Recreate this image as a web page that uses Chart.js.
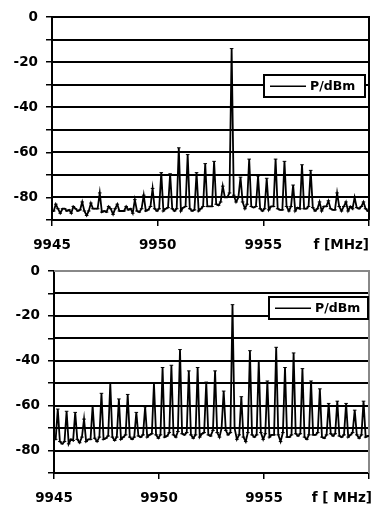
<!DOCTYPE html>
<html>
<head>
<meta charset="utf-8">
<script src="https://cdn.jsdelivr.net/npm/chart.js@4"></script>
<style>
  html, body { margin: 0; padding: 0; background: #fff; }
  canvas { display: block; }
</style>
</head>
<body>
<canvas id="topChart" width="380" height="254"></canvas>
<canvas id="bottomChart" width="380" height="251"></canvas>
<script>
// --- data ---
const seriesName = 'P/dBm';
const xTicks = [9945, 9950, 9955, 9960];
const yGrid = [0, -10, -20, -30, -40, -50, -60, -70, -80, -90];
const yLabelled = [0, -20, -40, -60, -80];
const unitTop = 'f [MHz]';
const unitBottom = 'f [ MHz]';

// comb line frequencies (MHz)
const combFreq = [9945.18, 9945.60, 9946.01, 9946.43, 9946.84, 9947.26, 9947.68, 9948.09, 9948.51, 9948.92,
                  9949.34, 9949.76, 9950.17, 9950.59, 9951.00, 9951.42, 9951.84, 9952.25, 9952.67, 9953.08,
                  9953.50, 9953.92, 9954.33, 9954.75, 9955.16, 9955.58, 9956.00, 9956.41, 9956.83, 9957.24,
                  9957.66, 9958.08, 9958.49, 9958.91, 9959.32, 9959.74];

// upper plot: peak level of each comb line and noise floor around it (dBm)
const topPeak = [-83, -85, -84, -82, -82.5, -78, -84, -83, -84, -81,
                 -79, -76, -69, -69.5, -58, -61, -69, -65, -64, -75,
                 -14, -71, -63, -70.5, -71.5, -63, -64, -74.5, -65.5, -68,
                 -82, -81.5, -78, -82, -80, -82];
const topPre = [-86, -85, -87, -85.5, -86, -85, -86.5, -85, -86, -87,
                -85, -84, -85, -84.5, -85, -84, -85.5, -84, -84, -82,
                -78, -80, -83, -84, -85, -84, -85.5, -84, -85, -84,
                -85, -84, -85.5, -84, -85, -84];
const topPost = [-85, -86, -85, -86, -85, -86.5, -85, -86, -85.5, -86,
                 -86, -85, -86, -85, -86, -85, -86, -84, -83, -80,
                 -79, -82, -84, -85, -85.5, -85, -84, -86, -85, -84.5,
                 -86, -85, -84, -86, -84.5, -85];
const topMid = [-87, -85.5, -86, -88, -85, -86, -87.5, -86, -85, -86.5,
                -85.5, -86, -85, -86, -84.5, -86, -85, -84, -83.5, -80,
                -82, -85, -84.5, -86, -84, -85.5, -86, -84.5, -85, -86,
                -84, -85.5, -86, -84, -85, -86];

// lower plot
const bottomPeak = [-61.5, -62.5, -63, -66, -60, -54.5, -50, -57, -55, -63,
                    -60.5, -50, -43, -42, -35, -44.5, -43, -49.5, -44.5, -53.5,
                    -15, -56, -35.5, -40, -49, -34, -43, -36.5, -43.5, -49,
                    -52.5, -59, -58, -59, -62, -58];
const bottomPre = [-75, -76, -75.5, -74, -75, -74, -73.5, -74, -73, -74,
                   -73, -72.5, -73, -72, -71.5, -72, -73, -72, -71, -70,
                   -72, -73, -72, -73, -72.5, -73, -72, -73, -72.5, -73,
                   -72, -73, -72.5, -73, -72, -73];
const bottomPost = [-76, -77, -75, -76, -74.5, -75, -74, -75, -74, -73.5,
                    -74, -73, -74, -73, -72.5, -73, -74, -73, -72, -71,
                    -70, -74, -73, -72, -74, -73, -74, -72.5, -74, -73,
                    -74, -72.5, -73.5, -74, -73, -74];
const bottomMid = [-77, -75, -76.5, -75, -76, -74.5, -75.5, -74, -75, -74,
                   -73, -74.5, -73.5, -74, -73, -74.5, -72.5, -73.5, -74, -73,
                   -75, -76, -74, -75, -73, -76, -74, -73.5, -75, -73,
                   -74.5, -73.5, -74, -73, -74.5, -73.5];

// --- trace builder: floor -> peak -> floor for every comb line ---
function buildTrace(peak, pre, post, mid) {
    const pts = [{ x: xTicks[0], y: pre[0] }];
    combFreq.forEach((f, i) => {
        pts.push({ x: f - 0.1, y: pre[i] });
        pts.push({ x: f, y: peak[i] });
        pts.push({ x: f + 0.1, y: post[i] });
        pts.push({ x: f + 0.21, y: mid[i] });
    });
    pts.push({ x: xTicks[xTicks.length - 1], y: mid[mid.length - 1] });
    return pts;
}

const FONT = { family: '"DejaVu Sans", sans-serif', size: 13.5, weight: 'bold' };

// horizontal grid every 10 dB + frame edges (filled strips)
const plotFrame = {
    id: 'plotFrame',
    beforeDatasetsDraw(chart, args, opts) {
        const { ctx, chartArea, scales } = chart;
        const w = chartArea.right - chartArea.left;
        ctx.save();
        yGrid.forEach(v => {
            const y = Math.round(scales.y.getPixelForValue(v));
            ctx.fillStyle = v === yGrid[0] ? opts.edgeColor : '#000';
            ctx.fillRect(chartArea.left, y - 1, w, 2);
        });
        ctx.fillStyle = opts.edgeColor;
        ctx.fillRect(Math.round(chartArea.right) - 1, chartArea.top - 1, 2, chartArea.bottom - chartArea.top + 1);
        ctx.restore();
    },
    afterDraw(chart, args, opts) {
        const { ctx, chartArea, scales } = chart;
        const xs = scales.x;
        let y = xs.top + 24, base = 'middle';
        if (xs.getLabelItems) {
            const item = xs.getLabelItems().find(it => it.label === '9955');
            if (item) {
                y = item.options.translation[1] + item.textOffset;
                base = item.options.textBaseline;
            }
        }
        ctx.save();
        ctx.fillStyle = '#000';
        ctx.font = `bold ${FONT.size}px "DejaVu Sans", sans-serif`;
        ctx.textAlign = 'right';
        ctx.textBaseline = base;
        ctx.fillText(opts.unit, chartArea.right + opts.unitShift, y);
        ctx.restore();
    }
};

// legend box drawn inside the plot
const keyBox = {
    id: 'keyBox',
    afterDatasetsDraw(chart, args, opts) {
        const { ctx, chartArea, scales } = chart;
        const right = Math.round(chartArea.right - opts.inset);
        const left = right - opts.width;
        const cy = Math.round(scales.y.getPixelForValue(opts.atValue));
        const top = cy - opts.height / 2;
        ctx.save();
        ctx.fillStyle = '#000';
        ctx.fillRect(left - 1, top - 1, opts.width + 2, opts.height + 2);
        ctx.fillStyle = '#fff';
        ctx.fillRect(left + 1, top + 1, opts.width - 2, opts.height - 2);
        ctx.fillStyle = '#000';
        ctx.fillRect(left + 6, cy - 0.5, 36, 1.5);
        ctx.font = 'bold 12.5px "DejaVu Sans", sans-serif';
        ctx.textAlign = 'left';
        ctx.textBaseline = 'middle';
        ctx.fillText(chart.data.datasets[0].label, left + 46, cy + 1);
        ctx.restore();
    }
};

function makeChart(id, cfg) {
    return new Chart(document.getElementById(id), {
        type: 'line',
        data: {
            datasets: [{
                label: seriesName,
                data: cfg.points,
                borderColor: '#000',
                borderWidth: 1.8,
                pointStyle: 'line',
                pointRadius: 1.8,
                pointBorderWidth: 1,
                pointBorderColor: '#000',
                tension: 0,
                fill: false
            }]
        },
        options: {
            responsive: false,
            animation: false,
            devicePixelRatio: 1,
            layout: { padding: { top: 17, right: cfg.padRight, left: 0, bottom: 0 } },
            plugins: {
                legend: { display: false },
                tooltip: { enabled: false },
                keyBox: cfg.key,
                plotFrame: { edgeColor: cfg.edgeColor, unit: cfg.unit, unitShift: cfg.unitShift }
            },
            scales: {
                x: {
                    type: 'linear',
                    min: xTicks[0],
                    max: xTicks[xTicks.length - 1],
                    afterBuildTicks: s => { s.ticks = xTicks.map(v => ({ value: v })); },
                    afterFit: s => { s.height = cfg.xAxisHeight; },
                    grid: { drawOnChartArea: false, drawTicks: true, tickLength: 6, color: '#000', lineWidth: 1.5 },
                    border: { color: '#000', width: 2 },
                    ticks: {
                        color: '#000', font: FONT, padding: 11, maxRotation: 0, autoSkip: false,
                        callback: v => (v === xTicks[xTicks.length - 1] ? '' : String(v))
                    }
                },
                y: {
                    min: yGrid[yGrid.length - 1],
                    max: yGrid[0],
                    afterBuildTicks: s => { s.ticks = yGrid.map(v => ({ value: v })); },
                    afterFit: s => { s.width = cfg.yAxisWidth; },
                    grid: { drawOnChartArea: false, drawTicks: true, tickLength: 6, lineWidth: 1.5, color: '#000' },
                    border: { color: '#000', width: 2 },
                    ticks: {
                        color: '#000', font: FONT, padding: 8, autoSkip: false,
                        callback: v => (yLabelled.includes(v) ? String(v) : '')
                    }
                }
            }
        },
        plugins: [plotFrame, keyBox]
    });
}

window.addEventListener('DOMContentLoaded', () => {
    makeChart('topChart', {
        points: buildTrace(topPeak, topPre, topPost, topMid),
        padRight: 5, yAxisWidth: 52, xAxisHeight: 34,
        edgeColor: '#000',
        unit: unitTop, unitShift: 0,
        key: { inset: 4, width: 101, height: 22, atValue: -30.5 }
    });
    makeChart('bottomChart', {
        points: buildTrace(bottomPeak, bottomPre, bottomPost, bottomMid),
        padRight: 8, yAxisWidth: 54, xAxisHeight: 32,
        edgeColor: '#888',
        unit: unitBottom, unitShift: 3,
        key: { inset: 1, width: 99, height: 22, atValue: -16.5 }
    });
});
</script>
</body>
</html>
